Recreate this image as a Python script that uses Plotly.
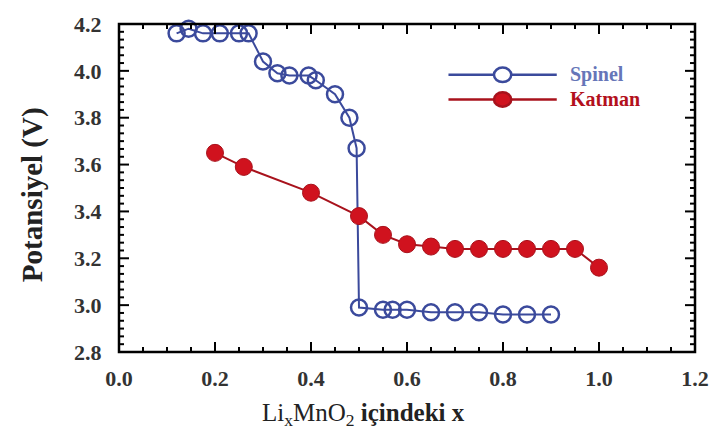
import plotly.graph_objects as go

# Spinel LixMn2O4-type curve (open circles)
spinel_x = [0.12, 0.145, 0.175, 0.21, 0.25, 0.27, 0.30, 0.33, 0.355, 0.395, 0.41,
            0.45, 0.48, 0.495, 0.50, 0.55, 0.57, 0.60, 0.65, 0.70, 0.75, 0.80, 0.85, 0.90]
spinel_y = [4.16, 4.18, 4.16, 4.16, 4.16, 4.16, 4.04, 3.99, 3.98, 3.98, 3.96,
            3.90, 3.80, 3.67, 2.99, 2.98, 2.98, 2.98, 2.97, 2.97, 2.97, 2.96, 2.96, 2.96]

# Layered LixMnO2 curve (filled circles)
katman_x = [0.20, 0.26, 0.40, 0.50, 0.55, 0.60, 0.65, 0.70, 0.75, 0.80, 0.85, 0.90, 0.95, 1.00]
katman_y = [3.65, 3.59, 3.48, 3.38, 3.30, 3.26, 3.25, 3.24, 3.24, 3.24, 3.24, 3.24, 3.24, 3.16]

x_ticks = [0.0, 0.2, 0.4, 0.6, 0.8, 1.0, 1.2]
y_ticks = [2.8, 3.0, 3.2, 3.4, 3.6, 3.8, 4.0, 4.2]
x_minor_step = 0.05
y_minor_step = 0.2 / 6

BLUE = "#3b4a9c"
RED_FILL = "#d0121e"
RED_LINE = "#a8121c"
SERIF = "Liberation Serif"

fig = go.Figure()
fig.add_trace(go.Scatter(
    x=spinel_x, y=spinel_y, mode="lines+markers", name="Spinel",
    line=dict(color=BLUE, width=2),
    marker=dict(symbol="circle-open", size=16, color=BLUE, line=dict(width=2.5)),
    cliponaxis=False, showlegend=False,
))
fig.add_trace(go.Scatter(
    x=katman_x, y=katman_y, mode="lines+markers", name="Katman",
    line=dict(color=RED_LINE, width=2),
    marker=dict(symbol="circle", size=17, color=RED_FILL, line=dict(width=1, color=RED_LINE)),
    cliponaxis=False, showlegend=False,
))

# Frame around the plotting area
fig.add_shape(type="rect", xref="paper", yref="paper", x0=0, x1=1, y0=0, y1=1,
              line=dict(color="black", width=2.5), fillcolor="rgba(0,0,0,0)", layer="above")


def is_major(v, majors):
    return any(abs(v - m) < 1e-6 for m in majors)


tick_line = dict(color="black", width=2)

# Inward tick marks on the bottom and top edges
n_x = int(round((x_ticks[-1] - x_ticks[0]) / x_minor_step))
for i in range(n_x + 1):
    v = x_ticks[0] + i * x_minor_step
    length = 10 if is_major(v, x_ticks) else 5
    for anchor, sign in ((0, 1), (1, -1)):
        fig.add_shape(type="line", xref="x", yref="paper", x0=v, x1=v,
                      ysizemode="pixel", yanchor=anchor, y0=0, y1=sign * length,
                      line=tick_line, layer="above")

# Inward tick marks on the left and right edges
n_y = int(round((y_ticks[-1] - y_ticks[0]) / y_minor_step))
for i in range(n_y + 1):
    v = y_ticks[0] + i * y_minor_step
    length = 10 if is_major(v, y_ticks) else 5
    for anchor, sign in ((0, 1), (1, -1)):
        fig.add_shape(type="line", xref="paper", yref="y", y0=v, y1=v,
                      xsizemode="pixel", xanchor=anchor, x0=0, x1=sign * length,
                      line=tick_line, layer="above")

# Hand-drawn legend with long sample lines
legend_rows = [("Spinel", 0.845, BLUE, "#6676b8", False), ("Katman", 0.77, RED_LINE, "#b3101c", True)]
for label, yp, col, tcol, filled in legend_rows:
    fig.add_shape(type="line", xref="paper", yref="paper", x0=0.572, x1=0.76, y0=yp, y1=yp,
                  line=dict(color=col, width=2.5))
    fig.add_shape(type="circle", xref="paper", yref="paper",
                  x0=0.666 - 0.015, x1=0.666 + 0.015, y0=yp - 0.022, y1=yp + 0.022,
                  line=dict(color=col, width=2.5),
                  fillcolor=RED_FILL if filled else "white")
    fig.add_annotation(xref="paper", yref="paper", x=0.78, y=yp, text=f"<b>{label}</b>",
                       showarrow=False, xanchor="left", yanchor="middle",
                       font=dict(family=SERIF, size=20, color=tcol))

# Axis titles
fig.add_annotation(xref="paper", yref="paper", x=0.424, y=-0.19,
                   text="Li<sub>x</sub>MnO<sub>2</sub> <b>içindeki x</b>",
                   showarrow=False, xanchor="center", yanchor="middle",
                   font=dict(family=SERIF, size=25, color="#222222"))
fig.add_annotation(xref="paper", yref="paper", x=-0.15, y=0.48,
                   text="<b>Potansiyel (V)</b>", textangle=-90,
                   showarrow=False, xanchor="center", yanchor="middle",
                   font=dict(family=SERIF, size=29, color="#222222"))

# transparent outside ticks only push the labels away from the frame
axis_common = dict(
    showline=False, ticks="outside", tickcolor="rgba(0,0,0,0)", tickwidth=1,
    showgrid=False, zeroline=False,
    tickfont=dict(family=SERIF, size=22, color="#333333", weight="bold"),
)

fig.update_xaxes(
    range=[x_ticks[0], x_ticks[-1]], tickvals=x_ticks, ticklen=7,
    ticktext=[f"{v:.1f}" for v in x_ticks], **axis_common,
)
fig.update_yaxes(
    range=[y_ticks[0], y_ticks[-1]], tickvals=y_ticks, ticklen=12,
    ticktext=[f"{v:.1f}" for v in y_ticks], **axis_common,
)

fig.update_layout(
    width=722, height=446,
    margin=dict(l=119, r=27, t=18, b=94),
    paper_bgcolor="white", plot_bgcolor="white",
    showlegend=False,
)

fig.write_html("out.html")
